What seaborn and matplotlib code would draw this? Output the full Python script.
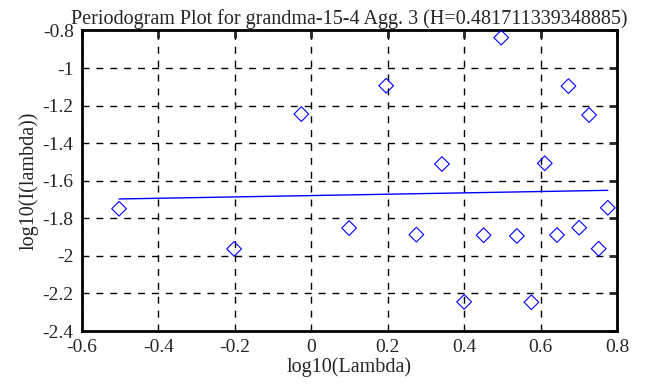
import numpy as np
import pandas as pd
import seaborn as sns
import matplotlib
matplotlib.use("Agg")
import matplotlib.pyplot as plt

# periodogram points
log_lambda = [-0.503, -0.202, -0.026, 0.099, 0.196, 0.275, 0.342, 0.400, 0.451, 0.497,
              0.538, 0.576, 0.611, 0.643, 0.673, 0.701, 0.727, 0.752, 0.776]
log_i = [-1.749, -1.963, -1.245, -1.852, -1.094, -1.887, -1.511, -2.245, -1.890, -0.838,
         -1.894, -2.247, -1.507, -1.889, -1.096, -1.850, -1.250, -1.962, -1.744]

# fitted line end points
fit_x = [-0.503, 0.776]
fit_y = [-1.697, -1.651]

x_ticks = [-0.6, -0.4, -0.2, 0, 0.2, 0.4, 0.6, 0.8]
y_ticks = [-0.8, -1, -1.2, -1.4, -1.6, -1.8, -2, -2.2, -2.4]

title = "Periodogram Plot for grandma-15-4 Agg. 3 (H=0.481711339348885)"

sns.set_style("white")
plt.rcParams["font.family"] = ["Liberation Serif", "DejaVu Serif"]
plt.rcParams["axes.unicode_minus"] = False

df = pd.DataFrame({"x": log_lambda, "y": log_i})

fig = plt.figure(figsize=(6.63, 3.87), dpi=100)
ax = fig.add_axes([0.1237, 0.1447, 0.8069, 0.7765])

sns.scatterplot(data=df, x="x", y="y", marker="D", s=56, facecolor="none",
                edgecolor="blue", linewidth=0.8, ax=ax, zorder=3)
sns.lineplot(x=fit_x, y=fit_y, color="blue", linewidth=1.0, ax=ax, zorder=2)

ax.set_xlim(-0.6, 0.8)
ax.set_ylim(-2.4, -0.8)
ax.set_xticks(x_ticks)
ax.set_yticks(y_ticks)
ax.set_xticklabels([f"{v:g}" for v in x_ticks])
ax.set_yticklabels([f"{v:g}" for v in y_ticks])
ax.grid(True, color="black", linestyle=(0, (5, 5)), linewidth=1.0)
ax.tick_params(direction="in", length=6, width=2, labelsize=14, top=True, right=True,
               labeltop=False, labelright=False, pad=6)
for sp in ax.spines.values():
    sp.set_linewidth(2)
    sp.set_color("black")

ax.set_xlabel("log10(Lambda)", fontsize=14.5, labelpad=1)
ax.set_ylabel("log10(I(lambda))", fontsize=14.5, labelpad=3)
ax.set_title(title, fontsize=14.5, pad=5)

fig.savefig("out.png", dpi=100)
